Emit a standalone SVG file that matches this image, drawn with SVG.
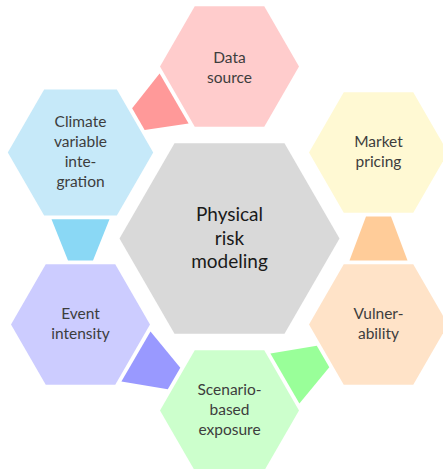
<svg xmlns="http://www.w3.org/2000/svg" width="443" height="469" viewBox="0 0 443 469">
  <style>
    .lbl { font-family: Lato, "Liberation Sans", sans-serif; font-size: 15.5px; fill: #3d3d3d; text-anchor: middle; }
    .big { font-family: Lato, "Liberation Sans", sans-serif; font-size: 19px; fill: #1a1a1a; text-anchor: middle; }
  </style>
  <rect width="443" height="469" fill="#ffffff"/>

  <!-- tapered links between neighbouring hexagons -->
  <g id="connectors">
    <polygon points="159.6,73.4 188.6,123.6 144.65,129.9 132.15,108.3" fill="#ff9999"/>
    <polygon points="51.5,219.3 109.5,219.3 93,260.5 68,260.5" fill="#8ad8f5"/>
    <polygon points="150.5,331.4 180.3,367.7 167.8,389.3 121.4,381.6" fill="#9999ff"/>
    <polygon points="270.4,353.4 316.8,345.7 329.3,367.3 299.4,403.6" fill="#99ff99"/>
    <polygon points="349.5,260.5 407.5,260.5 391,216.5 366,216.5" fill="#ffcc99"/>
  </g>

  <g id="center">
    <polygon points="119.5,238.5 174.5,143.24 284.5,143.24 339.5,238.5 284.5,333.76 174.5,333.76" fill="#d9d9d9"/>
    <text class="big" x="229.5" y="221">Physical</text>
    <text class="big" x="229.5" y="244.5">risk</text>
    <text class="big" x="229.5" y="268">modeling</text>
  </g>

  <g id="data-source">
    <polygon points="160,66.5 194.75,6.3 264.25,6.3 299,66.5 264.25,126.7 194.75,126.7" fill="#ffcccc"/>
    <text class="lbl" x="229.5" y="62.5">Data</text>
    <text class="lbl" x="229.5" y="82.5">source</text>
  </g>

  <g id="climate">
    <polygon points="7.8,152.5 44.15,89.5 116.85,89.5 153.2,152.5 116.85,215.5 44.15,215.5" fill="#c6e9f9"/>
    <text class="lbl" x="80.5" y="127">Climate</text>
    <text class="lbl" x="80.5" y="147">variable</text>
    <text class="lbl" x="80.5" y="167">inte-</text>
    <text class="lbl" x="80.5" y="187">gration</text>
  </g>

  <g id="event">
    <polygon points="11,324.5 45.75,264.3 115.25,264.3 150,324.5 115.25,384.7 45.75,384.7" fill="#ccccff"/>
    <text class="lbl" x="80.5" y="319">Event</text>
    <text class="lbl" x="80.5" y="339">intensity</text>
  </g>

  <g id="scenario">
    <polygon points="160,410.5 194.75,350.3 264.25,350.3 299,410.5 264.25,470.7 194.75,470.7" fill="#ccffcc"/>
    <text class="lbl" x="229.5" y="395">Scenario-</text>
    <text class="lbl" x="229.5" y="415">based</text>
    <text class="lbl" x="229.5" y="435">exposure</text>
  </g>

  <g id="vulnerability">
    <polygon points="309,324.5 343.75,264.3 413.25,264.3 448,324.5 413.25,384.7 343.75,384.7" fill="#ffe3c8"/>
    <text class="lbl" x="378.5" y="319">Vulner-</text>
    <text class="lbl" x="378.5" y="339">ability</text>
  </g>

  <g id="market">
    <polygon points="309,152.5 343.75,92.3 413.25,92.3 448,152.5 413.25,212.7 343.75,212.7" fill="#fff9d3"/>
    <text class="lbl" x="378.5" y="147">Market</text>
    <text class="lbl" x="378.5" y="167">pricing</text>
  </g>
</svg>
